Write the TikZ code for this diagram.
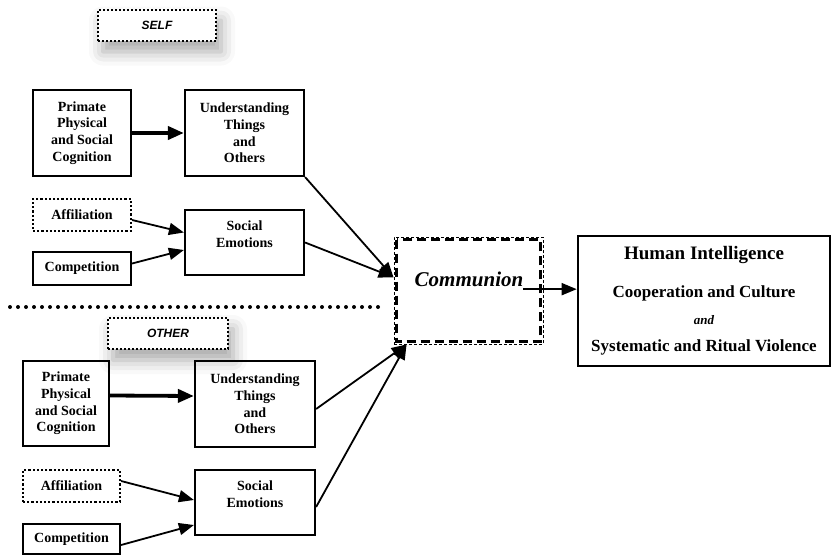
\documentclass[tikz,border=0pt]{standalone}
\usepackage{fontspec}
\setmainfont{Liberation Serif}
\setsansfont{Liberation Sans}
\usetikzlibrary{arrows.meta,shadows.blur}

\begin{document}
\begin{tikzpicture}[x=1pt,y=-1pt,
  box/.style={draw,line width=2.2pt,inner sep=0pt,align=center,
    font=\fontsize{14}{16.7}\selectfont\bfseries},
  dotbox/.style={box,dotted},
  tag/.style={draw,dotted,line width=2pt,fill=white,minimum width=118pt,minimum height=31pt,
    font=\fontsize{12}{14}\selectfont\sffamily\bfseries\itshape,
    blur shadow={shadow xshift=5pt,shadow yshift=-11pt,shadow blur radius=14pt,shadow opacity=35}},
  arr/.style={line width=1.8pt,-{Triangle[length=15pt,width=12pt]}},
  fatarr/.style={line width=3.8pt,-{Triangle[length=16pt,width=13pt]}}]
\useasboundingbox (0,0) rectangle (831,555);

\node[tag] (self) at (157,25) {SELF};
\node[box,minimum width=98pt,minimum height=86pt] (pcs1) at (82,133) {Primate\\Physical\\and Social\\Cognition};
\node[box,minimum width=119pt,minimum height=86pt] (ute1) at (244.5,133) {Understanding\\Things\\and\\Others};
\node[dotbox,minimum width=98pt,minimum height=32pt] (aff1) at (82,215) {Affiliation};
\node[box,minimum width=98pt,minimum height=33pt] (comp1) at (82,268.5) {Competition};
\node[box,minimum width=119pt,minimum height=65pt] (soc1) at (244.5,242.5) {Social\\Emotions\\\mbox{}};

\draw[line width=4pt,line cap=round,dash pattern=on 0pt off 8pt] (10,307) -- (378,307);

\node[tag,minimum width=120pt] (other) at (168,333.5) {OTHER};
\node[box,minimum width=86pt,minimum height=85pt] (pcs2) at (66,403.5) {Primate\\Physical\\and Social\\Cognition};
\node[box,minimum width=120pt,minimum height=86pt] (ute2) at (255,404) {Understanding\\Things\\and\\Others};
\node[dotbox,minimum width=97pt,minimum height=32pt] (aff2) at (71.5,486) {Affiliation};
\node[box,minimum width=97pt,minimum height=30pt] (comp2) at (71.5,539) {Competition};
\node[box,minimum width=120pt,minimum height=65pt] (soc2) at (255,502.5) {Social\\Emotions\\\mbox{}};

\node[draw,line width=0.9pt,dash pattern=on 3pt off 2pt,minimum width=149pt,minimum height=107pt] (comm) at (468.5,290.5) {};
\draw[line width=3pt,dash pattern=on 9pt off 5pt] ([xshift=3pt,yshift=-3pt]comm.north west) rectangle ([xshift=-3pt,yshift=3pt]comm.south east);
\node[inner sep=0pt,font=\fontsize{21}{25}\selectfont\bfseries\itshape] (commtxt) at (469,279) {Communion};

\node[box,line width=2.6pt,minimum width=252pt,minimum height=130pt,font=\fontsize{17}{27}\selectfont\bfseries] (hi) at (704,301)
  {{\fontsize{19}{27}\selectfont Human Intelligence}\\[11pt]Cooperation and Culture\\{\fontsize{13}{27}\selectfont\itshape and}\\Systematic and Ritual Violence};

\draw[fatarr] (pcs1) -- (ute1);
\draw[arr] ([yshift=-5pt]aff1.east) -- ([yshift=10pt]soc1.west);
\draw[arr] ([yshift=5pt]comp1.east) -- ([yshift=-7.5pt]soc1.west);
\draw[arr] (ute1.south east) -- (comm.170);
\draw[arr] (soc1.east) -- (comm.170);

\draw[fatarr] ([yshift=8pt]pcs2.east) -- ([yshift=8pt]ute2.west);
\draw[arr] ([yshift=5pt]aff2.east) -- ([yshift=2.5pt]soc2.west);
\draw[arr] ([yshift=-6pt]comp2.east) -- ([yshift=-22.5pt]soc2.west);
\draw[arr] ([yshift=-5pt]ute2.east) -- ([xshift=13pt]comm.south west);
\draw[arr] ([yshift=-4.5pt]soc2.east) -- ([xshift=13pt]comm.south west);

\draw[arr] ([yshift=-3pt]commtxt.base east) -- ([yshift=-3pt]commtxt.base east -| hi.west);
\end{tikzpicture}
\end{document}
